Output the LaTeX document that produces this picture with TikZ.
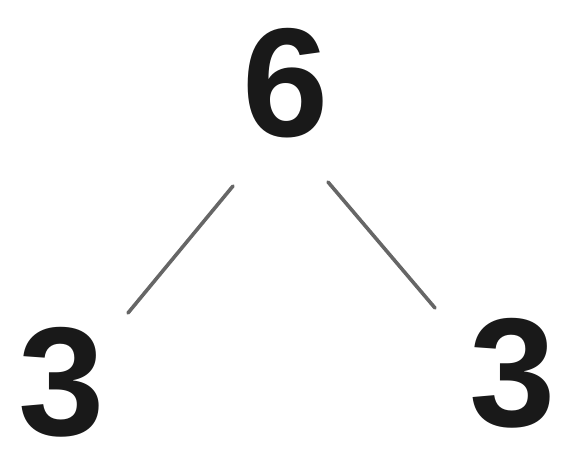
\documentclass[tikz,border=0pt]{standalone}
\usepackage{fontspec}
\setmainfont{Liberation Sans}
\begin{document}
\begin{tikzpicture}[x=1pt,y=-1pt,
  digit/.style={inner sep=0pt, anchor=base, font=\fontsize{155}{155}\selectfont\bfseries, text=black!90},
  link/.style={draw=black!60, line width=3.6pt, line cap=round}]
\useasboundingbox (0,0) rectangle (572,456);
\node[digit] (six) at (286,136) {6};
\node[digit] (left) at (62,435) {3};
\node[digit] (right) at (513,426) {3};
\coordinate (l1) at (233,186);
\coordinate (l2) at (128,313);
\coordinate (r1) at (328,182);
\coordinate (r2) at (435,308);
\draw[link] (l1) -- (l2);
\draw[link] (r1) -- (r2);
\end{tikzpicture}
\end{document}
